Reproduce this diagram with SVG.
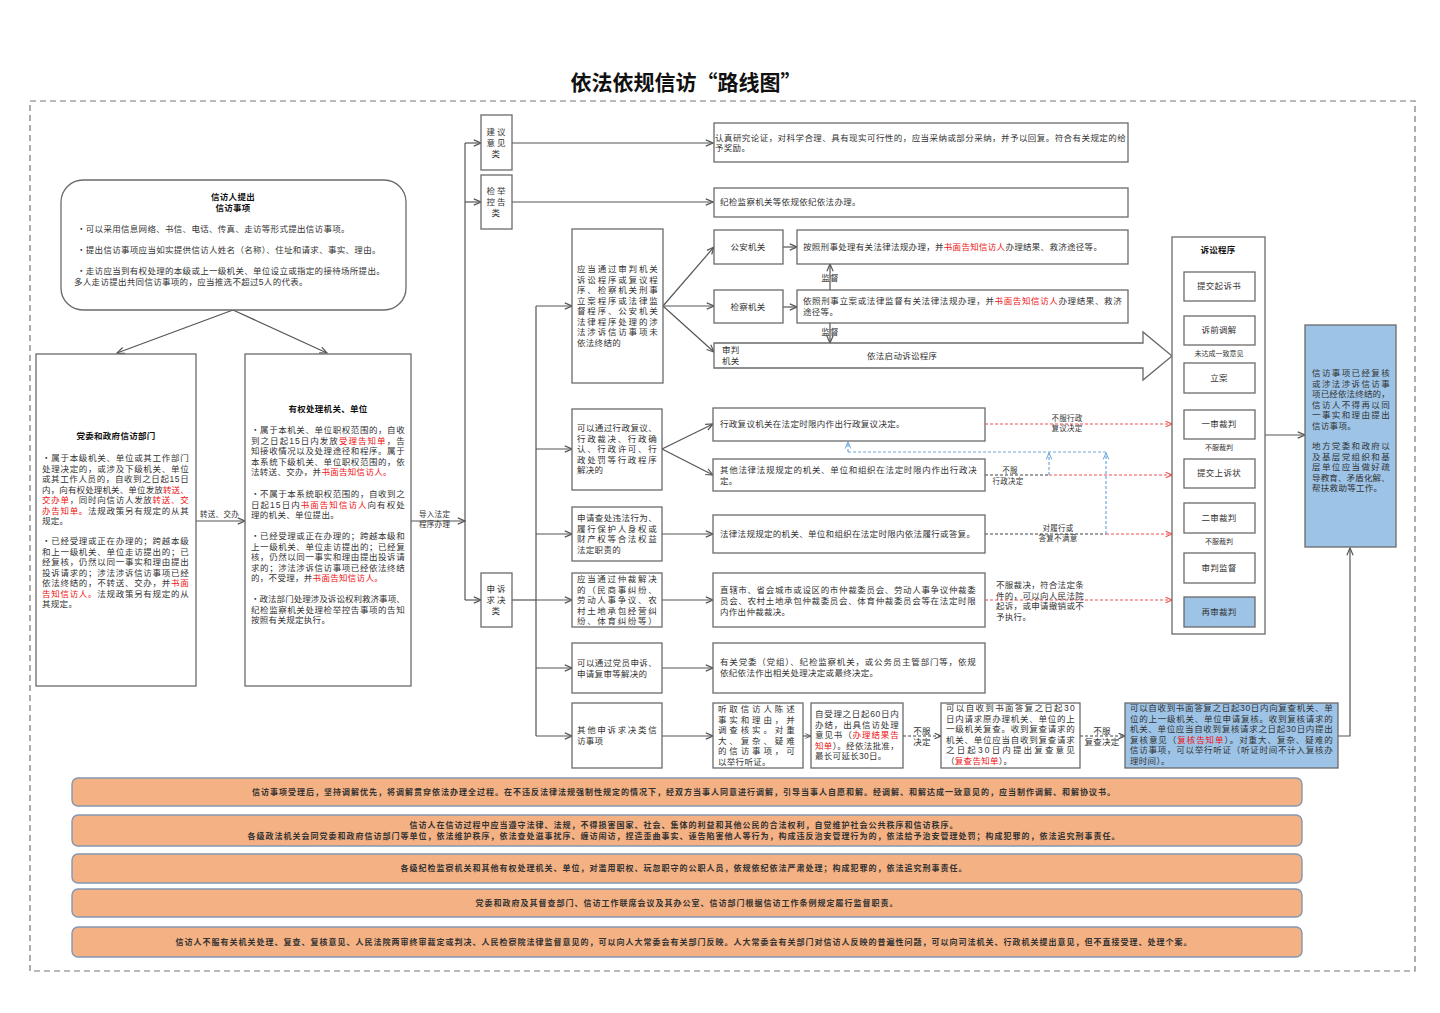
<svg xmlns="http://www.w3.org/2000/svg" width="1440" height="1013" viewBox="0 0 1440 1013">
<defs>
<style>
text{font-family:'Liberation Sans','Noto Sans CJK SC',sans-serif;font-size:8.5px;fill:#333;letter-spacing:0.3px}
.b{font-weight:bold;fill:#111}
.r{fill:#EE1111}
.c{text-anchor:middle}
.sm{font-size:7.5px}
.box{fill:#fff;stroke:#6a6a6a;stroke-width:1.3}
.blue{fill:#9DC3E6;stroke:#6a6a6a;stroke-width:1.3}
.ln{fill:none;stroke:#555;stroke-width:1.2}
.band{fill:#F4B183;stroke:#8497B0;stroke-width:1.4}
.bt{font-size:8px;font-weight:bold;fill:#333;text-anchor:middle;letter-spacing:1px}
.dk{fill:none;stroke:#444;stroke-width:1.2;stroke-dasharray:3 2}
.dr{fill:none;stroke:#F05050;stroke-width:1.2;stroke-dasharray:3 2}
.db{fill:none;stroke:#6FA8DC;stroke-width:1.2;stroke-dasharray:3 2}
</style>
<marker id="ah" viewBox="0 0 10 10" refX="9" refY="5" markerWidth="9" markerHeight="9" markerUnits="userSpaceOnUse" orient="auto"><path d="M1,1.5 L9,5 L1,8.5" fill="none" stroke="#555" stroke-width="1.3"/></marker>
<marker id="ahs" viewBox="0 0 10 10" refX="9" refY="5" markerWidth="7" markerHeight="7" markerUnits="userSpaceOnUse" orient="auto"><path d="M1,1.5 L9,5 L1,8.5" fill="none" stroke="#555" stroke-width="1.3"/></marker>
<marker id="ahr" viewBox="0 0 10 10" refX="9" refY="5" markerWidth="8" markerHeight="8" markerUnits="userSpaceOnUse" orient="auto"><path d="M1,1.5 L9,5 L1,8.5" fill="none" stroke="#F05050" stroke-width="1.3"/></marker>
<marker id="ahb" viewBox="0 0 10 10" refX="9" refY="5" markerWidth="8" markerHeight="8" markerUnits="userSpaceOnUse" orient="auto"><path d="M1,1.5 L9,5 L1,8.5" fill="none" stroke="#6FA8DC" stroke-width="1.3"/></marker>
<marker id="ahk" viewBox="0 0 10 10" refX="9" refY="5" markerWidth="8" markerHeight="8" markerUnits="userSpaceOnUse" orient="auto"><path d="M1,1.5 L9,5 L1,8.5" fill="none" stroke="#444" stroke-width="1.3"/></marker>
</defs>
<rect x="0" y="0" width="1440" height="1013" fill="#fff"/>
<text x="686" y="90" class="b c" style="font-size:21px;font-family:'Noto Sans CJK SC',sans-serif;letter-spacing:0">依法依规信访“路线图”</text>
<rect x="30" y="101" width="1385" height="870" fill="none" stroke="#777" stroke-width="1.2" stroke-dasharray="6 4"/>

<g id="connectors">
<path class="ln" d="M233,310 L117,353" marker-end="url(#ah)"/>
<path class="ln" d="M233,310 L327,353" marker-end="url(#ah)"/>
<path class="ln" d="M196,521 L245,521" marker-end="url(#ah)"/>
<path class="ln" d="M411,521 L465,521" marker-end="url(#ah)"/>
<path class="ln" d="M465,143 L465,600"/>
<path class="ln" d="M465,143 L481,143" marker-end="url(#ah)"/>
<path class="ln" d="M465,202 L481,202" marker-end="url(#ah)"/>
<path class="ln" d="M465,600 L481,600" marker-end="url(#ah)"/>
<path class="ln" d="M512,143 L713,143" marker-end="url(#ah)"/>
<path class="ln" d="M512,202 L713,202" marker-end="url(#ah)"/>
<path class="ln" d="M512,600 L536,600"/>
<path class="ln" d="M536,306 L536,736"/>
<path class="ln" d="M536,306 L572,306" marker-end="url(#ah)"/>
<path class="ln" d="M536,449 L572,449" marker-end="url(#ah)"/>
<path class="ln" d="M536,534 L572,534" marker-end="url(#ah)"/>
<path class="ln" d="M536,600 L572,600" marker-end="url(#ah)"/>
<path class="ln" d="M536,668 L572,668" marker-end="url(#ah)"/>
<path class="ln" d="M536,736 L572,736" marker-end="url(#ah)"/>
<path class="ln" d="M663,306 L714,247" marker-end="url(#ah)"/>
<path class="ln" d="M663,306 L714,306" marker-end="url(#ah)"/>
<path class="ln" d="M663,306 L714,352" marker-end="url(#ah)"/>
<path class="ln" d="M783,247 L797,247" marker-end="url(#ah)"/>
<path class="ln" d="M783,307 L797,307" marker-end="url(#ah)"/>
<path class="ln" d="M830,290 L830,264" marker-end="url(#ah)"/>
<path class="ln" d="M830,323 L830,343" marker-end="url(#ah)"/>
<text x="830" y="281" class="c">监督</text>
<text x="830" y="335" class="c">监督</text>
<path class="ln" d="M662,449 L713,424" marker-end="url(#ah)"/>
<path class="ln" d="M662,449 L713,475" marker-end="url(#ah)"/>
<path class="ln" d="M662,534 L713,534" marker-end="url(#ah)"/>
<path class="ln" d="M662,600 L713,600" marker-end="url(#ah)"/>
<path class="ln" d="M662,668 L713,668" marker-end="url(#ah)"/>
<path class="ln" d="M662,736 L713,736" marker-end="url(#ah)"/>
<path class="ln" d="M803,736 L811,736" marker-end="url(#ahs)"/>
<path class="dk" d="M903,736 L941,736" marker-end="url(#ahk)"/>
<path class="dk" d="M1080,736 L1125,736" marker-end="url(#ahk)"/>
<text x="922" y="734" class="c">不服</text>
<text x="922" y="745" class="c">决定</text>
<text x="1102" y="734" class="c">不服</text>
<text x="1102" y="745" class="c">复查决定</text>
<path class="ln" d="M1338,736 L1350,736 L1350,548" marker-end="url(#ah)"/>
<path class="dr" d="M985,424 L1172,424" marker-end="url(#ahr)"/>
<path class="dk" d="M985,475 L1049,475"/>
<path class="dr" d="M1049,475 L1172,475" marker-end="url(#ahr)"/>
<path class="dk" d="M985,534 L1106,534"/>
<path class="dr" d="M1106,534 L1172,534" marker-end="url(#ahr)"/>
<path class="dr" d="M985,600 L1172,600" marker-end="url(#ahr)"/>
<path class="db" d="M848,452 L1106,452"/>
<path class="db" d="M848,452 L848,442" marker-end="url(#ahb)"/>
<path class="db" d="M1049,475 L1049,453" marker-end="url(#ahb)"/>
<path class="db" d="M1106,534 L1106,453" marker-end="url(#ahb)"/>
<text x="1067" y="421" class="c sm">不服行政</text>
<text x="1067" y="431" class="c sm">复议决定</text>
<text x="1010" y="473" class="c sm">不服</text>
<text x="1008" y="484" class="c sm">行政决定</text>
<text x="1058" y="531" class="c sm">对履行或</text>
<text x="1058" y="541" class="c sm">答复不满意</text>
<text x="996" y="588">不服裁决，符合法定条</text>
<text x="996" y="598.5">件的，可以向人民法院</text>
<text x="996" y="609">起诉，或申请撤销或不</text>
<text x="996" y="619.5">予执行。</text>
<path class="ln" d="M1265,435 L1305,435" marker-end="url(#ah)"/>
<path class="ln" d="M1219,301 L1219,316" marker-end="url(#ahs)"/>
<path class="ln" d="M1219,345 L1219,363" marker-end="url(#ahs)"/>
<path class="ln" d="M1219,393 L1219,410" marker-end="url(#ahs)"/>
<path class="ln" d="M1219,439 L1219,459" marker-end="url(#ahs)"/>
<path class="ln" d="M1219,488 L1219,503" marker-end="url(#ahs)"/>
<path class="ln" d="M1219,533 L1219,553" marker-end="url(#ahs)"/>
<path class="ln" d="M1219,583 L1219,597" marker-end="url(#ahs)"/>
</g>

<g id="n-start">
<rect x="61" y="180" width="345" height="130" rx="22" class="box"/>
<text x="233" y="200" class="b c">信访人提出</text>
<text x="233" y="211" class="b c">信访事项</text>
<text x="77" y="232">・可以采用信息网络、书信、电话、传真、走访等形式提出信访事项。</text>
<text x="77" y="253">・提出信访事项应当如实提供信访人姓名（名称）、住址和请求、事实、理由。</text>
<text x="77" y="274">・走访应当到有权处理的本级或上一级机关、单位设立或指定的接待场所提出。</text>
<text x="74" y="285">多人走访提出共同信访事项的，应当推选不超过5人的代表。</text>
</g>

<g id="n-dept">
<rect x="36" y="354" width="160" height="332" class="box"/>
<text x="116" y="439" class="b c">党委和政府信访部门</text>
<text x="42" y="461" textLength="147" lengthAdjust="spacing">・属于本级机关、单位或其工作部门</text>
<text x="42" y="471.5" textLength="147" lengthAdjust="spacing">处理决定的，或涉及下级机关、单位</text>
<text x="42" y="482" textLength="147" lengthAdjust="spacing">或其工作人员的，自收到之日起15日</text>
<text x="42" y="492.5" textLength="147" lengthAdjust="spacing">内，向有权处理机关、单位发放<tspan class="r">转送、</tspan></text>
<text x="42" y="503" textLength="147" lengthAdjust="spacing"><tspan class="r">交办单</tspan>，同时向信访人发放<tspan class="r">转送、交</tspan></text>
<text x="42" y="513.5" textLength="147" lengthAdjust="spacing"><tspan class="r">办告知单。</tspan>法规政策另有规定的从其</text>
<text x="42" y="524">规定。</text>
<text x="42" y="544" textLength="147" lengthAdjust="spacing">・已经受理或正在办理的；跨越本级</text>
<text x="42" y="554.5" textLength="147" lengthAdjust="spacing">和上一级机关、单位走访提出的；已</text>
<text x="42" y="565" textLength="147" lengthAdjust="spacing">经复核，仍然以同一事实和理由提出</text>
<text x="42" y="575.5" textLength="147" lengthAdjust="spacing">投诉请求的；涉法涉诉信访事项已经</text>
<text x="42" y="586" textLength="147" lengthAdjust="spacing">依法终结的，不转送、交办，并<tspan class="r">书面</tspan></text>
<text x="42" y="596.5" textLength="147" lengthAdjust="spacing"><tspan class="r">告知信访人。</tspan>法规政策另有规定的从</text>
<text x="42" y="607">其规定。</text>
<text x="200" y="517" class="sm">转送、交办</text>
</g>

<g id="n-authority">
<rect x="245" y="354" width="166" height="332" class="box"/>
<text x="328" y="412" class="b c">有权处理机关、单位</text>
<text x="251" y="433" textLength="154" lengthAdjust="spacing">・属于本机关、单位职权范围的，自收</text>
<text x="251" y="443.5" textLength="154" lengthAdjust="spacing">到之日起15日内发放<tspan class="r">受理告知单</tspan>，告</text>
<text x="251" y="454" textLength="154" lengthAdjust="spacing">知接收情况以及处理途径和程序。属于</text>
<text x="251" y="464.5" textLength="154" lengthAdjust="spacing">本系统下级机关、单位职权范围的，依</text>
<text x="251" y="475">法转送、交办，并<tspan class="r">书面告知信访人。</tspan></text>
<text x="251" y="497" textLength="154" lengthAdjust="spacing">・不属于本系统职权范围的，自收到之</text>
<text x="251" y="507.5" textLength="154" lengthAdjust="spacing">日起15日内<tspan class="r">书面告知信访人</tspan>向有权处</text>
<text x="251" y="518">理的机关、单位提出。</text>
<text x="251" y="539" textLength="154" lengthAdjust="spacing">・已经受理或正在办理的；跨越本级和</text>
<text x="251" y="549.5" textLength="154" lengthAdjust="spacing">上一级机关、单位走访提出的；已经复</text>
<text x="251" y="560" textLength="154" lengthAdjust="spacing">核，仍然以同一事实和理由提出投诉请</text>
<text x="251" y="570.5" textLength="154" lengthAdjust="spacing">求的；涉法涉诉信访事项已经依法终结</text>
<text x="251" y="581">的，不受理，并<tspan class="r">书面告知信访人。</tspan></text>
<text x="251" y="602" textLength="154" lengthAdjust="spacing">・政法部门处理涉及诉讼权利救济事项、</text>
<text x="251" y="612.5" textLength="154" lengthAdjust="spacing">纪检监察机关处理检举控告事项的告知</text>
<text x="251" y="623">按照有关规定执行。</text>
<text x="419" y="517" class="sm">导入法定</text>
<text x="419" y="527" class="sm">程序办理</text>
</g>

<g id="n-suggest">
<rect x="481" y="115" width="31" height="55" class="box"/>
<text x="497" y="135" class="c" style="letter-spacing:2px">建议</text>
<text x="497" y="146" class="c" style="letter-spacing:2px">意见</text>
<text x="496" y="157" class="c">类</text>
</g>
<g id="n-report">
<rect x="481" y="175" width="31" height="54" class="box"/>
<text x="497" y="194" class="c" style="letter-spacing:2px">检举</text>
<text x="497" y="205" class="c" style="letter-spacing:2px">控告</text>
<text x="496" y="216" class="c">类</text>
</g>
<g id="n-appeal">
<rect x="481" y="573" width="31" height="54" class="box"/>
<text x="497" y="592" class="c" style="letter-spacing:2px">申诉</text>
<text x="497" y="603" class="c" style="letter-spacing:2px">求决</text>
<text x="496" y="614" class="c">类</text>
</g>

<g id="n-suggest-res">
<rect x="714" y="123" width="414" height="39" class="box"/>
<text x="715" y="141" textLength="411" lengthAdjust="spacing">认真研究论证，对科学合理、具有现实可行性的，应当采纳或部分采纳，并予以回复。符合有关规定的给</text>
<text x="715" y="151">予奖励。</text>
</g>
<g id="n-report-res">
<rect x="714" y="188" width="414" height="29" class="box"/>
<text x="720" y="205">纪检监察机关等依规依纪依法办理。</text>
</g>

<g id="n-litig">
<rect x="572" y="229" width="91" height="154" class="box"/>
<text x="577" y="272" textLength="81" lengthAdjust="spacing">应当通过审判机关</text>
<text x="577" y="282.5" textLength="81" lengthAdjust="spacing">诉讼程序或复议程</text>
<text x="577" y="293" textLength="81" lengthAdjust="spacing">序、检察机关刑事</text>
<text x="577" y="303.5" textLength="81" lengthAdjust="spacing">立案程序或法律监</text>
<text x="577" y="314" textLength="81" lengthAdjust="spacing">督程序、公安机关</text>
<text x="577" y="324.5" textLength="81" lengthAdjust="spacing">法律程序处理的涉</text>
<text x="577" y="335" textLength="81" lengthAdjust="spacing">法涉诉信访事项未</text>
<text x="577" y="345.5">依法终结的</text>
</g>

<g id="n-police">
<rect x="714" y="230" width="69" height="34" class="box"/>
<text x="748" y="250" class="c">公安机关</text>
</g>
<g id="n-police-res">
<rect x="797" y="230" width="331" height="34" class="box"/>
<text x="803" y="250">按照刑事处理有关法律法规办理，并<tspan class="r">书面告知信访人</tspan>办理结果、救济途径等。</text>
</g>
<g id="n-procur">
<rect x="714" y="290" width="69" height="33" class="box"/>
<text x="748" y="310" class="c">检察机关</text>
</g>
<g id="n-procur-res">
<rect x="797" y="290" width="331" height="33" class="box"/>
<text x="803" y="304" textLength="319" lengthAdjust="spacing">依照刑事立案或法律监督有关法律法规办理，并<tspan class="r">书面告知信访人</tspan>办理结果、救济</text>
<text x="803" y="315">途径等。</text>
</g>
<g id="n-court">
<polygon points="714,343 1143,343 1143,332 1172,356 1143,380 1143,368 714,368" class="box"/>
<text x="722" y="353">审判</text>
<text x="722" y="364">机关</text>
<text x="867" y="359">依法启动诉讼程序</text>
</g>

<g id="n-admin">
<rect x="572" y="409" width="90" height="81" class="box"/>
<text x="577" y="431" textLength="80" lengthAdjust="spacing">可以通过行政复议、</text>
<text x="577" y="441.5" textLength="80" lengthAdjust="spacing">行政裁决、行政确</text>
<text x="577" y="452" textLength="80" lengthAdjust="spacing">认、行政许可、行</text>
<text x="577" y="462.5" textLength="80" lengthAdjust="spacing">政处罚等行政程序</text>
<text x="577" y="473">解决的</text>
</g>
<g id="n-admin-rev">
<rect x="713" y="408" width="272" height="33" class="box"/>
<text x="720" y="427">行政复议机关在法定时限内作出行政复议决定。</text>
</g>
<g id="n-admin-dec">
<rect x="713" y="459" width="272" height="32" class="box"/>
<text x="720" y="472.5" textLength="257" lengthAdjust="spacing">其他法律法规规定的机关、单位和组织在法定时限内作出行政决</text>
<text x="720" y="483.5">定。</text>
</g>
<g id="n-duty">
<rect x="572" y="507" width="90" height="54" class="box"/>
<text x="577" y="521" textLength="80" lengthAdjust="spacing">申请查处违法行为、</text>
<text x="577" y="531.5" textLength="80" lengthAdjust="spacing">履行保护人身权或</text>
<text x="577" y="542" textLength="80" lengthAdjust="spacing">财产权等合法权益</text>
<text x="577" y="552.5">法定职责的</text>
</g>
<g id="n-duty-res">
<rect x="713" y="515" width="272" height="38" class="box"/>
<text x="720" y="537">法律法规规定的机关、单位和组织在法定时限内依法履行或答复。</text>
</g>
<g id="n-arb">
<rect x="572" y="573" width="90" height="54" class="box"/>
<text x="577" y="582" textLength="80" lengthAdjust="spacing">应当通过仲裁解决</text>
<text x="577" y="592.5" textLength="80" lengthAdjust="spacing">的（民商事纠纷、</text>
<text x="577" y="603" textLength="80" lengthAdjust="spacing">劳动人事争议、农</text>
<text x="577" y="613.5" textLength="80" lengthAdjust="spacing">村土地承包经营纠</text>
<text x="577" y="624" textLength="80" lengthAdjust="spacing">纷、体育纠纷等）</text>
</g>
<g id="n-arb-res">
<rect x="713" y="573" width="272" height="54" class="box"/>
<text x="720" y="593" textLength="256" lengthAdjust="spacing">直辖市、省会城市或设区的市仲裁委员会、劳动人事争议仲裁委</text>
<text x="720" y="604" textLength="256" lengthAdjust="spacing">员会、农村土地承包仲裁委员会、体育仲裁委员会等在法定时限</text>
<text x="720" y="615">内作出仲裁裁决。</text>
</g>
<g id="n-party">
<rect x="572" y="643" width="90" height="50" class="box"/>
<text x="577" y="666" textLength="80" lengthAdjust="spacing">可以通过党员申诉、</text>
<text x="577" y="676.5">申请复审等解决的</text>
</g>
<g id="n-party-res">
<rect x="713" y="643" width="272" height="50" class="box"/>
<text x="720" y="665" textLength="256" lengthAdjust="spacing">有关党委（党组）、纪检监察机关，或公务员主管部门等，依规</text>
<text x="720" y="676">依纪依法作出相关处理决定或最终决定。</text>
</g>

<g id="n-other">
<rect x="572" y="703" width="90" height="65" class="box"/>
<text x="577" y="733" textLength="80" lengthAdjust="spacing">其他申诉求决类信</text>
<text x="577" y="744">访事项</text>
</g>
<g id="n-hear">
<rect x="713" y="703" width="90" height="65" class="box"/>
<text x="718" y="712" textLength="77" lengthAdjust="spacing">听取信访人陈述</text>
<text x="718" y="722.5" textLength="77" lengthAdjust="spacing">事实和理由，并</text>
<text x="718" y="733" textLength="77" lengthAdjust="spacing">调查核实。对重</text>
<text x="718" y="743.5" textLength="77" lengthAdjust="spacing">大、复杂、疑难</text>
<text x="718" y="754" textLength="77" lengthAdjust="spacing">的信访事项，可</text>
<text x="718" y="764.5">以举行听证。</text>
</g>
<g id="n-60days">
<rect x="811" y="703" width="92" height="65" class="box"/>
<text x="815" y="717" textLength="84" lengthAdjust="spacing">自受理之日起60日内</text>
<text x="815" y="727.5" textLength="84" lengthAdjust="spacing">办结，出具信访处理</text>
<text x="815" y="738" textLength="84" lengthAdjust="spacing">意见书（<tspan class="r">办理结果告</tspan></text>
<text x="815" y="748.5" textLength="84" lengthAdjust="spacing"><tspan class="r">知单</tspan>）。经依法批准，</text>
<text x="815" y="759">最长可延长30日。</text>
</g>
<g id="n-review">
<rect x="941" y="703" width="139" height="65" class="box"/>
<text x="946" y="711" textLength="129" lengthAdjust="spacing">可以自收到书面答复之日起30</text>
<text x="946" y="721.5" textLength="129" lengthAdjust="spacing">日内请求原办理机关、单位的上</text>
<text x="946" y="732" textLength="129" lengthAdjust="spacing">一级机关复查。收到复查请求的</text>
<text x="946" y="742.5" textLength="129" lengthAdjust="spacing">机关、单位应当自收到复查请求</text>
<text x="946" y="753" textLength="129" lengthAdjust="spacing">之日起30日内提出复查意见</text>
<text x="946" y="763.5">（<tspan class="r">复查告知单</tspan>）。</text>
</g>
<g id="n-recheck">
<rect x="1125" y="703" width="213" height="65" class="blue"/>
<text x="1130" y="711" textLength="203" lengthAdjust="spacing">可以自收到书面答复之日起30日内向复查机关、单</text>
<text x="1130" y="721.5" textLength="203" lengthAdjust="spacing">位的上一级机关、单位申请复核。收到复核请求的</text>
<text x="1130" y="732" textLength="203" lengthAdjust="spacing">机关、单位应当自收到复核请求之日起30日内提出</text>
<text x="1130" y="742.5" textLength="203" lengthAdjust="spacing">复核意见（<tspan class="r">复核告知单</tspan>）。对重大、复杂、疑难的</text>
<text x="1130" y="753" textLength="203" lengthAdjust="spacing">信访事项，可以举行听证（听证时间不计入复核办</text>
<text x="1130" y="763.5">理时间）。</text>
</g>

<g id="n-procedure">
<rect x="1172" y="237" width="93" height="397" class="box"/>
<text x="1218" y="253" class="b c">诉讼程序</text>
<rect x="1184" y="272" width="71" height="29" class="box"/>
<text x="1219" y="289" class="c">提交起诉书</text>
<rect x="1184" y="316" width="71" height="29" class="box"/>
<text x="1219" y="333" class="c">诉前调解</text>
<text x="1219" y="356" class="c" style="font-size:7px;letter-spacing:0">未达成一致意见</text>
<rect x="1184" y="363" width="71" height="30" class="box"/>
<text x="1219" y="381" class="c">立案</text>
<rect x="1184" y="410" width="71" height="29" class="box"/>
<text x="1219" y="427" class="c">一审裁判</text>
<text x="1219" y="450" class="c" style="font-size:7px;letter-spacing:0">不服裁判</text>
<rect x="1184" y="459" width="71" height="29" class="box"/>
<text x="1219" y="476" class="c">提交上诉状</text>
<rect x="1184" y="503" width="71" height="30" class="box"/>
<text x="1219" y="521" class="c">二审裁判</text>
<text x="1219" y="544" class="c" style="font-size:7px;letter-spacing:0">不服裁判</text>
<rect x="1184" y="553" width="71" height="30" class="box"/>
<text x="1219" y="571" class="c">审判监督</text>
<rect x="1184" y="597" width="71" height="30" class="blue"/>
<text x="1219" y="615" class="c">再审裁判</text>
</g>

<g id="n-final">
<rect x="1305" y="325" width="91" height="222" class="blue"/>
<text x="1312" y="376" textLength="78" lengthAdjust="spacing">信访事项已经复核</text>
<text x="1312" y="386.5" textLength="78" lengthAdjust="spacing">或涉法涉诉信访事</text>
<text x="1312" y="397" textLength="78" lengthAdjust="spacing">项已经依法终结的，</text>
<text x="1312" y="407.5" textLength="78" lengthAdjust="spacing">信访人不得再以同</text>
<text x="1312" y="418" textLength="78" lengthAdjust="spacing">一事实和理由提出</text>
<text x="1312" y="428.5">信访事项。</text>
<text x="1312" y="449" textLength="78" lengthAdjust="spacing">地方党委和政府以</text>
<text x="1312" y="459.5" textLength="78" lengthAdjust="spacing">及基层党组织和基</text>
<text x="1312" y="470" textLength="78" lengthAdjust="spacing">层单位应当做好疏</text>
<text x="1312" y="480.5" textLength="78" lengthAdjust="spacing">导教育、矛盾化解、</text>
<text x="1312" y="491">帮扶救助等工作。</text>
</g>

<g id="n-band1">
<rect x="72" y="778" width="1230" height="28" rx="6" class="band"/>
<text x="684" y="795" class="bt">信访事项受理后，坚持调解优先，将调解贯穿依法办理全过程。在不违反法律法规强制性规定的情况下，经双方当事人同意进行调解，引导当事人自愿和解。经调解、和解达成一致意见的，应当制作调解、和解协议书。</text>
</g>
<g id="n-band2">
<rect x="72" y="815" width="1230" height="31" rx="6" class="band"/>
<text x="684" y="828" class="bt">信访人在信访过程中应当遵守法律、法规，不得损害国家、社会、集体的利益和其他公民的合法权利，自觉维护社会公共秩序和信访秩序。</text>
<text x="684" y="838.5" class="bt">各级政法机关会同党委和政府信访部门等单位，依法维护秩序，依法查处滋事扰序、缠访闹访，捏造歪曲事实、诬告陷害他人等行为，构成违反治安管理行为的，依法给予治安管理处罚；构成犯罪的，依法追究刑事责任。</text>
</g>
<g id="n-band3">
<rect x="72" y="854" width="1230" height="29" rx="6" class="band"/>
<text x="684" y="871" class="bt">各级纪检监察机关和其他有权处理机关、单位，对滥用职权、玩忽职守的公职人员，依规依纪依法严肃处理；构成犯罪的，依法追究刑事责任。</text>
</g>
<g id="n-band4">
<rect x="72" y="889" width="1230" height="28" rx="6" class="band"/>
<text x="687" y="906" class="bt">党委和政府及其督查部门、信访工作联席会议及其办公室、信访部门根据信访工作条例规定履行监督职责。</text>
</g>
<g id="n-band5">
<rect x="72" y="927" width="1230" height="30" rx="6" class="band"/>
<text x="684" y="945" class="bt">信访人不服有关机关处理、复查、复核意见、人民法院两审终审裁定或判决、人民检察院法律监督意见的，可以向人大常委会有关部门反映。人大常委会有关部门对信访人反映的普遍性问题，可以向司法机关、行政机关提出意见，但不直接受理、处理个案。</text>
</g>
</svg>
